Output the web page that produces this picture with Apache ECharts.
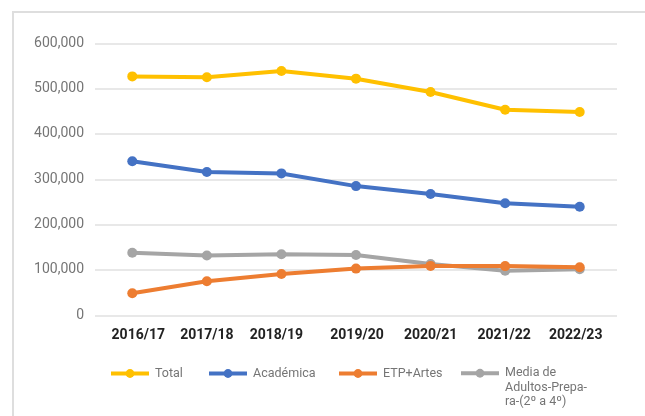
<!DOCTYPE html>
<html>
<head>
<meta charset="utf-8">
<script src="https://cdn.jsdelivr.net/npm/echarts@6/dist/echarts.min.js"></script>
<style>
  html, body { margin: 0; padding: 0; background: #fff; }
  #chart { width: 645px; height: 416px; }
</style>
</head>
<body>
<div id="chart"></div>
<script>
// School years on the category axis
const years = ['2016/17', '2017/18', '2018/19', '2019/20', '2020/21', '2021/22', '2022/23'];

// Enrolment per modality
const total = [527000, 525000, 539000, 522000, 492500, 453500, 448500];
const academica = [340000, 316000, 313000, 285000, 267500, 247000, 239500];
const etpArtes = [48500, 75000, 91000, 103000, 109000, 108500, 106000];
const mediaAdultos = [138000, 132000, 134500, 133000, 113000, 98500, 101500];

const seriesNames = ['Total', 'Académica', 'ETP+Artes', 'Media de Adultos-Prepara-(2º a 4º)'];
const seriesColors = ['#ffc000', '#4472c4', '#ed7d31', '#a5a5a5'];
const seriesValues = [total, academica, etpArtes, mediaAdultos];

const yTicks = { min: 0, max: 600000, interval: 100000 };

// small horizontal nudges of the year labels (px, + = right)
const labelShift = [6, 0, -5, 1, 0, -1, -4];

const chart = echarts.init(document.getElementById('chart'), null, { renderer: 'canvas' });

function fmtThousands(v) {
  return String(v).replace(/\B(?=(\d{3})+(?!\d))/g, ',');
}

const yearRich = {};
labelShift.forEach((s, i) => {
  yearRich['y' + i] = {
    color: '#222', fontSize: 14, fontWeight: 'bold', fontFamily: 'Roboto',
    padding: s >= 0 ? [0, 0, 0, 2 * s] : [0, -2 * s, 0, 0]
  };
});

const legendLeft = [109, 207, 337, 459];
const legends = seriesNames.map((name, i) => ({
  data: [name],
  left: legendLeft[i],
  top: i === 3 ? 337 : 367,
  padding: 0,
  itemWidth: 38,
  itemHeight: 11,
  itemGap: 0,
  lineStyle: { width: 4 },
  textStyle: i === 3
    ? { color: '#757575', fontSize: 12.5, fontFamily: 'Roboto', lineHeight: 14.5, padding: [0, 0, 0, 1] }
    : { color: '#757575', fontSize: 12.5, fontFamily: 'Roboto', padding: [0, 0, 0, 1] },
  // blank leading lines keep the first text line level with the marker
  formatter: i === 3 ? () => '\n\nMedia de\nAdultos-Prepa-\nra-(2º a 4º)' : undefined,
  selectedMode: false
}));

chart.setOption({
  animation: false,
  graphic: [{
    type: 'rect',
    shape: { x: 13, y: 12, width: 700, height: 500 },
    style: { fill: 'none', stroke: '#dedede', lineWidth: 2 },
    silent: true
  }],
  grid: { left: 95, right: 28, top: 43.3, bottom: 100.7, containLabel: false },
  legend: legends,
  xAxis: {
    type: 'category',
    data: years,
    boundaryGap: true,
    axisLine: { show: false },
    axisTick: { show: false },
    axisLabel: {
      interval: 0,
      hideOverlap: false,
      margin: 13,
      formatter: (v, i) => '{y' + i + '|' + v + '}',
      rich: yearRich
    }
  },
  yAxis: {
    type: 'value',
    min: yTicks.min,
    max: yTicks.max,
    interval: yTicks.interval,
    axisLine: { show: false },
    axisTick: { show: false },
    axisLabel: { color: '#757575', fontSize: 14, fontFamily: 'Roboto', margin: 11, formatter: fmtThousands },
    splitLine: { lineStyle: { color: '#e0e0e0', width: 1.5 } }
  },
  series: seriesNames.map((name, i) => ({
    name: name,
    type: 'line',
    data: seriesValues[i],
    color: seriesColors[i],
    symbol: 'circle',
    symbolSize: 10,
    lineStyle: { width: 4 },
    z: 10 - i
  }))
});
</script>
</body>
</html>
